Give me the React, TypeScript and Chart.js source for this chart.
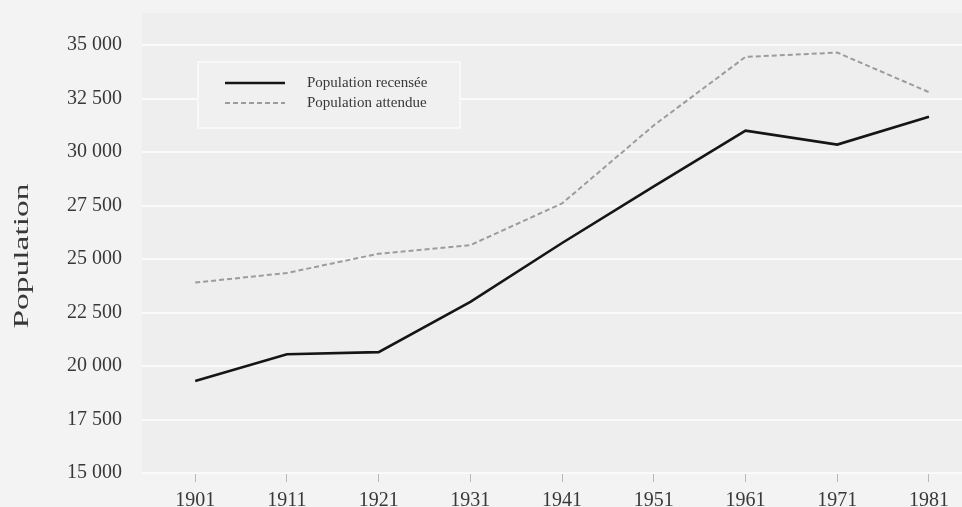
import React, { useEffect, useRef } from 'react';
import { Chart, registerables } from 'chart.js';

Chart.register(...registerables);

const YEARS = [1901, 1911, 1921, 1931, 1941, 1951, 1961, 1971, 1981];
const POP_RECENSEE = [19300, 20550, 20650, 23000, 25750, 28400, 31000, 30350, 31650];
const POP_ATTENDUE = [23900, 24350, 25250, 25650, 27600, 31250, 34450, 34650, 32800];
const Y_TICKS = [15000, 17500, 20000, 22500, 25000, 27500, 30000, 32500, 35000];
const SERIES_LABELS = ['Population recensée', 'Population attendue'];
const Y_TITLE = 'Population';

const FONT = '"Liberation Serif", "Times New Roman", serif';
const TEXT_COLOR = '#383838';

const fmt = (v: number) => String(Math.round(v)).replace(/\B(?=(\d{3})+(?!\d))/g, ' ');

const bgPlugin = {
  id: 'bgFill',
  beforeDraw(chart: any) {
    const { ctx, width, height, chartArea: a } = chart;
    ctx.save();
    ctx.fillStyle = '#f3f3f3';
    ctx.fillRect(0, 0, width, height);
    ctx.fillStyle = '#eeeeee';
    ctx.fillRect(a.left, a.top, a.right - a.left, a.bottom - a.top);
    ctx.restore();
  },
};

const legendPlugin = {
  id: 'boxLegend',
  beforeDatasetsDraw(chart: any) {
    const ctx = chart.ctx;
    ctx.save();
    ctx.fillStyle = '#f0f0f0';
    ctx.fillRect(198, 62, 262, 66);
    ctx.strokeStyle = '#f8f8f8';
    ctx.lineWidth = 2;
    ctx.strokeRect(198, 62, 262, 66);
    chart.data.datasets.forEach((ds: any, i: number) => {
      const y = 83 + i * 20;
      ctx.beginPath();
      ctx.setLineDash(ds.borderDash || []);
      ctx.strokeStyle = ds.borderColor;
      ctx.lineWidth = ds.borderWidth;
      ctx.moveTo(225, y);
      ctx.lineTo(285, y);
      ctx.stroke();
      ctx.setLineDash([]);
      ctx.fillStyle = TEXT_COLOR;
      ctx.font = `15px ${FONT}`;
      ctx.textBaseline = 'middle';
      ctx.textAlign = 'left';
      ctx.fillText(ds.label, 307, y);
    });
    ctx.restore();
  },
};

const yTitlePlugin = {
  id: 'yTitleStretched',
  afterDraw(chart: any) {
    const ctx = chart.ctx;
    ctx.save();
    ctx.font = `20px ${FONT}`;
    const w = ctx.measureText(Y_TITLE).width;
    ctx.translate(23, 256);
    ctx.rotate(-Math.PI / 2);
    ctx.scale(145 / w, 1);
    ctx.fillStyle = TEXT_COLOR;
    ctx.textAlign = 'center';
    ctx.textBaseline = 'middle';
    ctx.fillText(Y_TITLE, 0, 0);
    ctx.restore();
  },
};

export default function App() {
  const ref = useRef<HTMLCanvasElement | null>(null);

  useEffect(() => {
    if (!ref.current) return;
    const chart = new Chart(ref.current, {
      type: 'line',
      data: {
        datasets: [
          {
            label: SERIES_LABELS[0],
            data: YEARS.map((yr, i) => ({ x: yr, y: POP_RECENSEE[i] })),
            borderColor: '#151515',
            borderWidth: 2.6,
            pointRadius: 0,
            tension: 0,
            fill: false,
          },
          {
            label: SERIES_LABELS[1],
            data: YEARS.map((yr, i) => ({ x: yr, y: POP_ATTENDUE[i] })),
            borderColor: '#9c9c9c',
            borderWidth: 2,
            borderDash: [5, 3],
            pointRadius: 0,
            tension: 0,
            fill: false,
          },
        ],
      },
      options: {
        animation: false,
        responsive: false,
        layout: { padding: { top: 13, left: 0, right: 0, bottom: 0 } },
        plugins: { legend: { display: false }, tooltip: { enabled: false } },
        scales: {
          x: {
            type: 'linear',
            min: 1895.2,
            max: 1984.6,
            afterBuildTicks: (s: any) => {
              s.ticks = YEARS.map((v) => ({ value: v }));
            },
            afterFit: (s: any) => {
              s.height = 34;
              s.paddingLeft = 0;
              s.paddingRight = 0;
            },
            ticks: {
              autoSkip: false,
              maxRotation: 0,
              padding: 7,
              color: TEXT_COLOR,
              font: { family: FONT, size: 20 },
              callback: (v: any) => String(v),
            },
            grid: {
              drawOnChartArea: false,
              drawTicks: true,
              tickLength: 9,
              color: '#b8b8b8',
              lineWidth: 1,
            },
            border: { display: false },
          },
          y: {
            type: 'linear',
            min: 15000,
            max: 36500,
            afterBuildTicks: (s: any) => {
              s.ticks = Y_TICKS.map((v) => ({ value: v }));
            },
            afterFit: (s: any) => {
              s.width = 142;
              s.paddingTop = 0;
              s.paddingBottom = 0;
            },
            ticks: {
              padding: 20,
              color: TEXT_COLOR,
              font: { family: FONT, size: 20 },
              callback: (v: any) => fmt(Number(v)),
            },
            grid: { color: '#fafafa', lineWidth: 2, drawTicks: false },
            border: { display: false },
          },
        },
      },
      plugins: [bgPlugin, legendPlugin, yTitlePlugin],
    } as any);
    return () => chart.destroy();
  }, []);

  return (
    <div style={{ position: 'absolute', left: 0, top: 0, width: 962, height: 507 }}>
      <canvas ref={ref} width={962} height={507} style={{ width: 962, height: 507, display: 'block' }} />
    </div>
  );
}
